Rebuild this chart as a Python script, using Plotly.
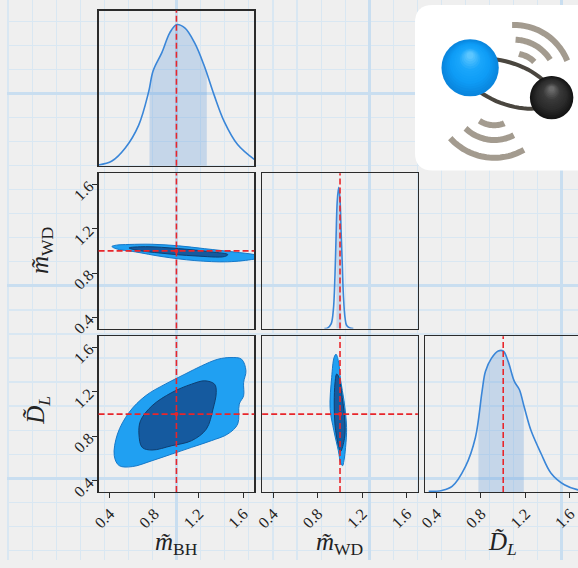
import numpy as np
import plotly.graph_objects as go

W, H = 578, 568

# ------------------------------------------------------------------ data
truth = [1.0, 1.0, 1.0]                      # m_BH, m_WD, D_L (normalised)
tick_vals = [0.4, 0.8, 1.2, 1.6]
tick_text = ["0.4", "0.8", "1.2", "1.6"]
axis_range = [0.3, 1.7]

# 1-D marginals (density, scaled to panel height)
mbh_x = [0.30, 0.42, 0.54, 0.66, 0.75, 0.79, 0.87, 0.94, 1.00, 1.075, 1.165, 1.25, 1.34, 1.43, 1.55, 1.70]
mbh_pdf = [0.004, 0.03, 0.114, 0.26, 0.475, 0.61, 0.73, 0.856, 0.909, 0.888, 0.79, 0.644, 0.453, 0.284, 0.136, 0.04]
mbh_band = [0.758, 1.273]

mwd_x = [0.86, 0.89, 0.92, 0.94, 0.955, 0.965, 0.975, 0.988, 1.0, 1.01, 1.02, 1.03, 1.045, 1.06, 1.09, 1.12]
mwd_pdf = [0.0, 0.005, 0.03, 0.12, 0.35, 0.6, 0.82, 0.909, 0.83, 0.62, 0.42, 0.22, 0.07, 0.02, 0.004, 0.0]
mwd_band = [0.968, 1.012]

dl_x = [0.33, 0.45, 0.54, 0.66, 0.75, 0.81, 0.84, 0.895, 0.955, 1.0, 1.045, 1.10, 1.145, 1.19, 1.25, 1.34, 1.43, 1.55, 1.665, 1.75]
dl_pdf = [0.004, 0.01, 0.036, 0.163, 0.35, 0.647, 0.774, 0.859, 0.905, 0.905, 0.837, 0.71, 0.658, 0.542, 0.394, 0.247, 0.12, 0.046, 0.015, 0.008]
dl_band = [0.777, 1.185]

# 2-D credible contours (outer = 95 %, inner = 68 %)
bhwd_out_x = [0.42, 0.46, 0.574, 0.78, 1.018, 1.255, 1.521, 1.70, 1.78, 1.70, 1.462, 1.166, 0.870, 0.633, 0.456]
bhwd_out_y = [1.04, 1.052, 1.058, 1.060, 1.046, 1.02, 0.99, 0.967, 0.945, 0.926, 0.902, 0.913, 0.949, 0.991, 1.02]
bhwd_in_x = [0.574, 0.722, 1.018, 1.314, 1.462, 1.432, 1.166, 0.870, 0.633]
bhwd_in_y = [1.027, 1.038, 1.021, 0.991, 0.967, 0.949, 0.955, 0.979, 1.009]

bhdl_out_x = [0.441, 0.485, 0.603, 0.781, 0.959, 1.136, 1.314, 1.462, 1.551, 1.565, 1.604, 1.604, 1.625, 1.586,
              1.491, 1.373, 1.225, 1.077, 0.899, 0.722, 0.574, 0.470]
bhdl_out_y = [0.626, 0.537, 0.528, 0.581, 0.641, 0.701, 0.761, 0.821, 0.910, 1.090, 1.164, 1.284, 1.389, 1.493,
              1.508, 1.493, 1.433, 1.359, 1.269, 1.164, 1.015, 0.821]
bhdl_in_x = [0.663, 0.692, 0.781, 0.959, 1.136, 1.269, 1.329, 1.358, 1.343, 1.255, 1.136, 0.959, 0.781, 0.677]
bhdl_in_y = [0.821, 0.701, 0.677, 0.716, 0.761, 0.865, 1.045, 1.194, 1.269, 1.299, 1.269, 1.194, 1.075, 0.940]

wddl_out_x = [0.964, 0.985, 1.006, 1.036, 1.059, 1.050, 1.035, 1.023, 1.006, 0.985, 0.945, 0.911, 0.925, 0.947]
wddl_out_y = [1.538, 1.48, 1.30, 1.12, 0.88, 0.70, 0.58, 0.536, 0.56, 0.67, 0.85, 1.05, 1.33, 1.51]
wddl_in_x = [0.970, 0.990, 1.02, 1.045, 1.040, 1.005, 0.985, 0.955, 0.948, 0.955]
wddl_in_y = [1.36, 1.33, 1.15, 0.92, 0.78, 0.665, 0.72, 0.90, 1.10, 1.28]

# ------------------------------------------------------------------ style
FONT = "Liberation Serif"
LINE_C = "#3a86d8"
BAND_C = "rgba(90,150,220,0.28)"
OUT_FILL, OUT_EDGE = "#20a0f2", "#1679c9"
IN_FILL, IN_EDGE = "#155a9f", "#0e3f72"
RED = "#e8262b"
FRAME = "#2b2b2b"

# panel frames in pixels -> paper fractions
cols_px = [(92.7, 250.3), (258.3, 415.9), (423.5, 578.0)]
rows_px = [(10.7, 168.0), (175.7, 333.3), (341.0, 499.0)]
colD = [[a / W, b / W] for a, b in cols_px]
rowD = [[1 - b / H, 1 - a / H] for a, b in rows_px]

fig = go.Figure()

# ---------- background graph paper (full-figure helper axis)
layout = dict(
    width=W, height=H, margin=dict(l=0, r=0, t=0, b=0),
    paper_bgcolor="#efefef", plot_bgcolor="rgba(0,0,0,0)",
    showlegend=False,
    xaxis=dict(domain=[0, 1], range=[0, W], showticklabels=False, ticks="", zeroline=False,
               showgrid=True, gridcolor="#c9def0", gridwidth=3, tick0=171.7, dtick=195,
               minor=dict(showgrid=True, gridcolor="#d9e7f2", gridwidth=1.2, tick0=171.7, dtick=24.375),
               fixedrange=True),
    yaxis=dict(domain=[0, 1], range=[H, 0], showticklabels=False, ticks="", zeroline=False,
               showgrid=True, gridcolor="#c9def0", gridwidth=3, tick0=95, dtick=195,
               minor=dict(showgrid=True, gridcolor="#d9e7f2", gridwidth=1.2, tick0=95, dtick=24.375),
               fixedrange=True),
)

def panel_axis(dom, anchor, rng, show_ticks, mirror=True):
    d = dict(domain=dom, anchor=anchor, range=rng, showgrid=False, zeroline=False,
             showline=True, mirror=mirror, linecolor=FRAME, linewidth=1.3,
             fixedrange=True)
    if show_ticks:
        d.update(ticks="outside", ticklen=5, tickwidth=1, tickcolor=FRAME,
                 tickvals=tick_vals, ticktext=tick_text, tickangle=-45,
                 tickfont=dict(family=FONT, size=16, color="#222"), showticklabels=True)
    else:
        d.update(ticks="", showticklabels=False)
    return d

# (axis id, row, col, x ticks, y ticks, y range)
panels = [
    (2, 0, 0, False, False, [0, 1]),
    (3, 1, 0, False, True, axis_range),
    (4, 1, 1, False, False, [0, 1]),
    (5, 2, 0, True, True, axis_range),
    (6, 2, 1, True, False, axis_range),
    (7, 2, 2, True, False, [0, 1]),
]
for n, r, c, xt, yt, yr in panels:
    xr = axis_range if c < 2 else [0.3, 0.3 + (cols_px[2][1] - cols_px[2][0]) / ((cols_px[0][1] - cols_px[0][0]) / 1.4)]
    layout[f"xaxis{n}"] = panel_axis(colD[c], f"y{n}", xr, xt)
    # last column runs off the right edge of the picture: no right-hand frame line
    layout[f"yaxis{n}"] = panel_axis(rowD[r], f"x{n}", yr, yt, mirror=(c < 2))

fig.update_layout(**layout)

# ---------- marginals
def marginal(n, xs, pdf, band):
    xs = np.asarray(xs, float)
    pdf = np.asarray(pdf, float)
    inside = (xs > band[0]) & (xs < band[1])
    bx = np.concatenate([[band[0]], xs[inside], [band[1]]])
    by = np.interp(bx, xs, pdf)
    fig.add_trace(go.Scatter(x=bx, y=by, mode="lines", line=dict(width=0, shape="spline"),
                             fill="tozeroy", fillcolor=BAND_C, xaxis=f"x{n}", yaxis=f"y{n}",
                             hoverinfo="skip"))
    fig.add_trace(go.Scatter(x=xs, y=pdf, mode="lines", line=dict(color=LINE_C, width=1.6, shape="spline"),
                             xaxis=f"x{n}", yaxis=f"y{n}"))

marginal(2, mbh_x, mbh_pdf, mbh_band)
marginal(4, mwd_x, mwd_pdf, mwd_band)
marginal(7, dl_x, dl_pdf, dl_band)

# ---------- 2-D contours
def contour(n, ox, oy, ix, iy):
    for xs, ys, fc, lc in ((ox, oy, OUT_FILL, OUT_EDGE), (ix, iy, IN_FILL, IN_EDGE)):
        xs = list(xs) + [xs[0]]
        ys = list(ys) + [ys[0]]
        fig.add_trace(go.Scatter(x=xs, y=ys, mode="lines", fill="toself", fillcolor=fc,
                                 line=dict(color=lc, width=1, shape="spline", smoothing=1.0),
                                 xaxis=f"x{n}", yaxis=f"y{n}"))

contour(3, bhwd_out_x, bhwd_out_y, bhwd_in_x, bhwd_in_y)
contour(5, bhdl_out_x, bhdl_out_y, bhdl_in_x, bhdl_in_y)
contour(6, wddl_out_x, wddl_out_y, wddl_in_x, wddl_in_y)

# ---------- truth markers and lines
pairs = {3: (0, 1), 5: (0, 2), 6: (1, 2)}
for n, (i, j) in pairs.items():
    fig.add_trace(go.Scatter(x=[truth[i]], y=[truth[j]], mode="markers",
                             marker=dict(color=RED, size=4), xaxis=f"x{n}", yaxis=f"y{n}"))

shapes = []
vert = {2: 0, 3: 0, 5: 0, 4: 1, 6: 1, 7: 2}
for n, i in vert.items():
    shapes.append(dict(type="line", xref=f"x{n}", yref=f"y{n} domain", x0=truth[i], x1=truth[i],
                       y0=0, y1=1, line=dict(color=RED, width=1.6, dash="6px,3px"), layer="above"))
for n, (i, j) in pairs.items():
    shapes.append(dict(type="line", xref=f"x{n} domain", yref=f"y{n}", x0=0, x1=1,
                       y0=truth[j], y1=truth[j], line=dict(color=RED, width=1.6, dash="6px,3px"),
                       layer="above"))

# ---------- logo (decoration, pixel coordinates on the helper axis)
def lg(**kw):
    d = dict(xref="x", yref="y", layer="between")
    d.update(kw)
    return d

cx0, cy0, cx1, cy1, rr = 413, 5, 600, 173, 18
card = (f"M {cx0+rr},{cy0} L {cx1},{cy0} L {cx1},{cy1} L {cx0+rr},{cy1} "
        f"Q {cx0},{cy1} {cx0},{cy1-rr} L {cx0},{cy0+rr} Q {cx0},{cy0} {cx0+rr},{cy0} Z")
shapes.append(lg(type="path", path=card, fillcolor="white", line=dict(width=0)))

def arc(cx, cy, r, a0, a1, n=30):
    t = np.radians(np.linspace(a0, a1, n))
    px = cx + r * np.cos(t)
    py = cy - r * np.sin(t)
    return "M " + " L ".join(f"{a:.1f},{b:.1f}" for a, b in zip(px, py))

WAVE = "#a39b8f"
for r, a0, a1 in ((58, 22, 92), (43, 32, 88), (29, 45, 80)):
    shapes.append(lg(type="path", path=arc(513.3, 83.3, r, a0, a1), line=dict(color=WAVE, width=6)))
for r, a0, a1 in ((60, 222, 300), (42, 226, 298), (27, 236, 292)):
    shapes.append(lg(type="path", path=arc(493.3, 100.0, r, a0, a1), line=dict(color=WAVE, width=6)))

# orbit ellipse
th = np.radians(20)
tt = np.linspace(0, 2 * np.pi, 60)
ex = 508 + 46 * np.cos(tt) * np.cos(th) - 21 * np.sin(tt) * np.sin(th)
ey = 85 + 46 * np.cos(tt) * np.sin(th) + 21 * np.sin(tt) * np.cos(th)
shapes.append(lg(type="path", path="M " + " L ".join(f"{a:.1f},{b:.1f}" for a, b in zip(ex, ey)) + " Z",
                 line=dict(color="#4a463f", width=4)))

def hexrgb(h):
    h = h.lstrip("#")
    return np.array([int(h[k:k + 2], 16) for k in (0, 2, 4)], float)

def sphere(cx, cy, r, cols, dx, dy, n=16):
    stops = [hexrgb(c) for c in cols]
    for k in range(n):
        t = k / (n - 1)
        rk = r * (1 - 0.88 * t)
        ox = cx + dx * (1 - rk / r)
        oy = cy + dy * (1 - rk / r)
        seg = t * (len(stops) - 1)
        i0 = min(int(seg), len(stops) - 2)
        f = seg - i0
        c = stops[i0] * (1 - f) + stops[i0 + 1] * f
        col = f"rgb({int(c[0])},{int(c[1])},{int(c[2])})"
        shapes.append(lg(type="circle", x0=ox - rk, x1=ox + rk, y0=oy - rk, y1=oy + rk,
                         fillcolor=col, line=dict(width=0)))

sphere(468.8, 68.7, 29, ["#0a86de", "#0e9cf6", "#1aa6fb", "#5cc6ff"], 0, -14)
sphere(551.3, 99.0, 22, ["#151515", "#2c2c2c", "#3a3a3a", "#6a6a6a"], 0, -10)

fig.update_layout(shapes=shapes)

# ---------- axis titles
tfont = dict(family=FONT, size=25, color="#222")
ann = [
    dict(text="<i>m\u0303</i><sub>BH</sub>", x=171.5 / W, y=1 - 551 / H),
    dict(text="<i>m\u0303</i><sub>WD</sub>", x=337.0 / W, y=1 - 551 / H),
    dict(text="<i>D\u0303</i><sub><i>L</i></sub>", x=502.0 / W, y=1 - 551 / H),
    dict(text="<i>m\u0303</i><sub>WD</sub>", x=35 / W, y=1 - 254 / H, textangle=-90),
    dict(text="<i>D\u0303</i><sub><i>L</i></sub>", x=31 / W, y=1 - 416 / H, textangle=-90),
]
for a in ann:
    a.update(xref="paper", yref="paper", showarrow=False, font=tfont, xanchor="center", yanchor="middle")
fig.update_layout(annotations=ann)

fig.write_html("out.html", config={"displayModeBar": False, "staticPlot": True},
               post_script="document.body.style.margin='0';document.body.style.overflow='hidden';")
